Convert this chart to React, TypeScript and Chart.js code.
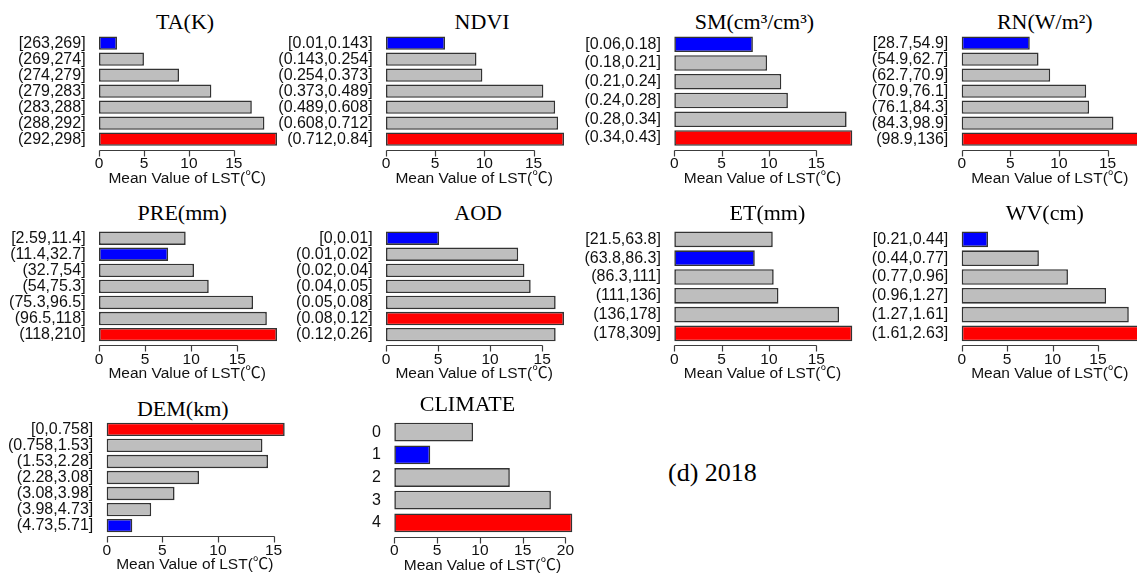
import React, { useEffect, useRef } from "react";
import { Chart, registerables } from "chart.js";

Chart.register(...registerables);

// ---------------- data ----------------
const LST_LABEL = "Mean Value of LST(℃)";
const FIGURE_TAG = "(d) 2018";

const X_TICKS = [0, 5, 10, 15];
const CLIMATE_X_TICKS = [0, 5, 10, 15, 20];

const TA_BINS = ["[263,269]", "(269,274]", "(274,279]", "(279,283]", "(283,288]", "(288,292]", "(292,298]"];
const TA_LST = [2.0, 5.0, 8.9, 12.5, 17.0, 18.4, 19.8];

const NDVI_BINS = ["[0.01,0.143]", "(0.143,0.254]", "(0.254,0.373]", "(0.373,0.489]", "(0.489,0.608]", "(0.608,0.712]", "(0.712,0.84]"];
const NDVI_LST = [6.0, 9.2, 9.8, 16.0, 17.2, 17.5, 18.1];

const SM_BINS = ["[0.06,0.18]", "(0.18,0.21]", "(0.21,0.24]", "(0.24,0.28]", "(0.28,0.34]", "(0.34,0.43]"];
const SM_LST = [8.3, 9.8, 11.3, 12.0, 18.2, 18.8];

const RN_BINS = ["[28.7,54.9]", "(54.9,62.7]", "(62.7,70.9]", "(70.9,76.1]", "(76.1,84.3]", "(84.3,98.9]", "(98.9,136]"];
const RN_LST = [7.0, 7.9, 9.1, 12.8, 13.1, 15.6, 18.3];

const PRE_BINS = ["[2.59,11.4]", "(11.4,32.7]", "(32.7,54]", "(54,75.3]", "(75.3,96.5]", "(96.5,118]", "(118,210]"];
const PRE_LST = [9.4, 7.5, 10.3, 11.9, 16.7, 18.2, 19.3];

const AOD_BINS = ["[0,0.01]", "(0.01,0.02]", "(0.02,0.04]", "(0.04,0.05]", "(0.05,0.08]", "(0.08,0.12]", "(0.12,0.26]"];
const AOD_LST = [5.1, 12.7, 13.3, 13.9, 16.3, 17.1, 16.3];

const ET_BINS = ["[21.5,63.8]", "(63.8,86.3]", "(86.3,111]", "(111,136]", "(136,178]", "(178,309]"];
const ET_LST = [10.4, 8.5, 10.5, 11.0, 17.4, 18.8];

const WV_BINS = ["[0.21,0.44]", "(0.44,0.77]", "(0.77,0.96]", "(0.96,1.27]", "(1.27,1.61]", "(1.61,2.63]"];
const WV_LST = [2.9, 8.5, 11.7, 15.9, 18.4, 19.6];

const DEM_BINS = ["[0,0.758]", "(0.758,1.53]", "(1.53,2.28]", "(2.28,3.08]", "(3.08,3.98]", "(3.98,4.73]", "(4.73,5.71]"];
const DEM_LST = [16.0, 14.0, 14.5, 8.3, 6.1, 4.0, 2.3];

const CLIMATE_CLASSES = ["0", "1", "2", "3", "4"];
const CLIMATE_LST = [9.2, 4.2, 13.5, 18.3, 20.8];

// ---------------- layout / style ----------------
const ROWS = [
  { barsTop: 36.5, barsBottom: 145.8, titleMid: 22.2 },
  { barsTop: 231.5, barsBottom: 341.3, titleMid: 213 },
  { barsTop: 422.7, barsBottom: 532.3, titleMid: 405 },
];

const MAX_BAR_PX = 178; // pixel length of the longest bar in each panel
const SANS = '"Liberation Sans", Arial, "Noto Sans CJK SC", sans-serif';
const SERIF = '"Liberation Serif", "Times New Roman", serif';
const TEXT = "#111111";
const GRAY = "#BEBEBE";
const BLUE = "#0000FF";
const RED = "#FF0000";

const PANELS = [
  { title: "TA(K)", labels: TA_BINS, values: TA_LST, ticks: X_TICKS, x0: 99, row: 0, titleDx: -2, titleDy: 0 },
  { title: "NDVI", labels: NDVI_BINS, values: NDVI_LST, ticks: X_TICKS, x0: 386, row: 0, titleDx: 8, titleDy: 0 },
  { title: "SM(cm³/cm³)", labels: SM_BINS, values: SM_LST, ticks: X_TICKS, x0: 674.3, row: 0, titleDx: -8, titleDy: 0 },
  { title: "RN(W/m²)", labels: RN_BINS, values: RN_LST, ticks: X_TICKS, x0: 961.7, row: 0, titleDx: -5, titleDy: 0 },
  { title: "PRE(mm)", labels: PRE_BINS, values: PRE_LST, ticks: X_TICKS, x0: 99, row: 1, titleDx: -5, titleDy: 0 },
  { title: "AOD", labels: AOD_BINS, values: AOD_LST, ticks: X_TICKS, x0: 386, row: 1, titleDx: 4, titleDy: 0 },
  { title: "ET(mm)", labels: ET_BINS, values: ET_LST, ticks: X_TICKS, x0: 674.3, row: 1, titleDx: 5, titleDy: 0 },
  { title: "WV(cm)", labels: WV_BINS, values: WV_LST, ticks: X_TICKS, x0: 961.7, row: 1, titleDx: -5, titleDy: 0 },
  { title: "DEM(km)", labels: DEM_BINS, values: DEM_LST, ticks: X_TICKS, x0: 106.7, row: 2, titleDx: -12, titleDy: 4 },
  { title: "CLIMATE", labels: CLIMATE_CLASSES, values: CLIMATE_LST, ticks: CLIMATE_X_TICKS, x0: 394.3, row: 2, titleDx: -15, titleDy: -1 },
];

// R-style axis: line only from first to last tick, ticks pointing down
const rAxisPlugin = {
  id: "rAxis",
  afterDraw(chart: any) {
    const xs = chart.scales.x;
    const ctx = chart.ctx;
    const ticks = xs.ticks;
    if (!ticks || !ticks.length) return;
    const y = Math.round(chart.chartArea.bottom + 2.5) + 0.5;
    const p0 = Math.round(xs.getPixelForValue(ticks[0].value)) + 0.5;
    const p1 = Math.round(xs.getPixelForValue(ticks[ticks.length - 1].value)) + 0.5;
    ctx.save();
    ctx.strokeStyle = "#3c3c3c";
    ctx.lineWidth = 1.2;
    ctx.beginPath();
    ctx.moveTo(p0, y);
    ctx.lineTo(p1, y);
    for (const t of ticks) {
      const p = Math.round(xs.getPixelForValue(t.value)) + 0.5;
      ctx.moveTo(p, y);
      ctx.lineTo(p, y + 6);
    }
    ctx.stroke();
    ctx.restore();
  },
};

type PanelProps = {
  title: string;
  labels: string[];
  values: number[];
  ticks: number[];
  x0: number;
  row: number;
  titleDx: number;
  titleDy: number;
};

function Panel({ title, labels, values, ticks, x0, row, titleDx, titleDy }: PanelProps) {
  const ref = useRef<HTMLCanvasElement>(null);
  const { barsTop, barsBottom, titleMid } = ROWS[row];
  const n = labels.length;
  const band = (barsBottom - barsTop) / (n - 1 / 6);
  const chartTop = barsTop - band / 12;
  const chartH = n * band;
  const M = Math.max(...values);
  const chartW = MAX_BAR_PX * 1.09;
  const chartLeft = x0 - MAX_BAR_PX * 0.05;

  const canvasLeft = Math.round(x0 - 120);
  const canvasTop = Math.floor(chartTop - 22);
  const yw = chartLeft - canvasLeft;
  const canvasW = Math.ceil(yw + chartW + 4);
  const padRight = canvasW - yw - chartW;
  const padTop = chartTop - canvasTop;
  const canvasH = Math.ceil(chartTop - canvasTop + chartH + 40);
  const xh = canvasH - (chartTop - canvasTop) - chartH;
  const titleX = x0 + MAX_BAR_PX * 0.495 + titleDx;

  useEffect(() => {
    if (!ref.current) return;
    const minV = Math.min(...values);
    const colors = values.map((v) => (v === M ? RED : v === minV ? BLUE : GRAY));
    const chart = new Chart(ref.current, {
      type: "bar",
      data: {
        labels,
        datasets: [
          {
            data: values,
            backgroundColor: colors,
            borderColor: "#333333",
            borderWidth: 1.6,
            borderSkipped: false,
            barPercentage: 1 / 1.2,
            categoryPercentage: 1,
          },
        ],
      },
      options: {
        indexAxis: "y",
        animation: false,
        responsive: false,
        devicePixelRatio: 1,
        layout: { autoPadding: false, padding: { top: padTop, right: padRight, left: 0, bottom: 0 } },
        plugins: {
          legend: { display: false },
          tooltip: { enabled: false },
          title: { display: false },
        },
        scales: {
          y: {
            type: "category",
            offset: true,
            grid: { display: false, drawTicks: false },
            border: { display: false },
            ticks: { color: TEXT, font: { family: SANS, size: 16 }, padding: 4.5, autoSkip: false },
            afterFit: (s: any) => {
              s.width = yw;
            },
          },
          x: {
            type: "linear",
            position: "bottom",
            min: -0.05 * M,
            max: 1.04 * M,
            afterBuildTicks: (s: any) => {
              s.ticks = ticks.map((v) => ({ value: v }));
            },
            grid: { display: false, drawTicks: false },
            border: { display: false },
            ticks: { color: TEXT, font: { family: SANS, size: 15.5, lineHeight: 1.2 }, padding: 7.5, maxRotation: 0 },
            title: {
              display: true,
              text: LST_LABEL,
              color: TEXT,
              font: { family: SANS, size: 15.5, lineHeight: 1.2 },
              padding: { top: 0, bottom: 0 },
            },
            afterFit: (s: any) => {
              s.height = xh;
            },
          },
        },
      } as any,
      plugins: [rAxisPlugin],
    });
    return () => chart.destroy();
  }, []);

  return (
    <>
      <div
        style={{
          position: "absolute",
          left: titleX,
          top: titleMid + titleDy - 11,
          transform: "translateX(-50%)",
          fontFamily: SERIF,
          fontSize: 22,
          lineHeight: "22px",
          color: "#000",
          whiteSpace: "nowrap",
        }}
      >
        {title}
      </div>
      <canvas
        ref={ref}
        width={canvasW}
        height={canvasH}
        style={{ position: "absolute", left: canvasLeft, top: canvasTop, width: canvasW, height: canvasH }}
      />
    </>
  );
}

export default function App() {
  return (
    <div
      style={{
        position: "fixed",
        left: 0,
        top: 0,
        width: 1137,
        height: 574,
        overflow: "hidden",
        background: "#ffffff",
      }}
    >
      {PANELS.map((p, i) => (
        <Panel key={i} {...p} />
      ))}
      <div
        style={{
          position: "absolute",
          left: 668,
          top: 460,
          fontFamily: SERIF,
          fontSize: 26,
          lineHeight: "26px",
          color: "#000",
          whiteSpace: "nowrap",
        }}
      >
        {FIGURE_TAG}
      </div>
    </div>
  );
}
